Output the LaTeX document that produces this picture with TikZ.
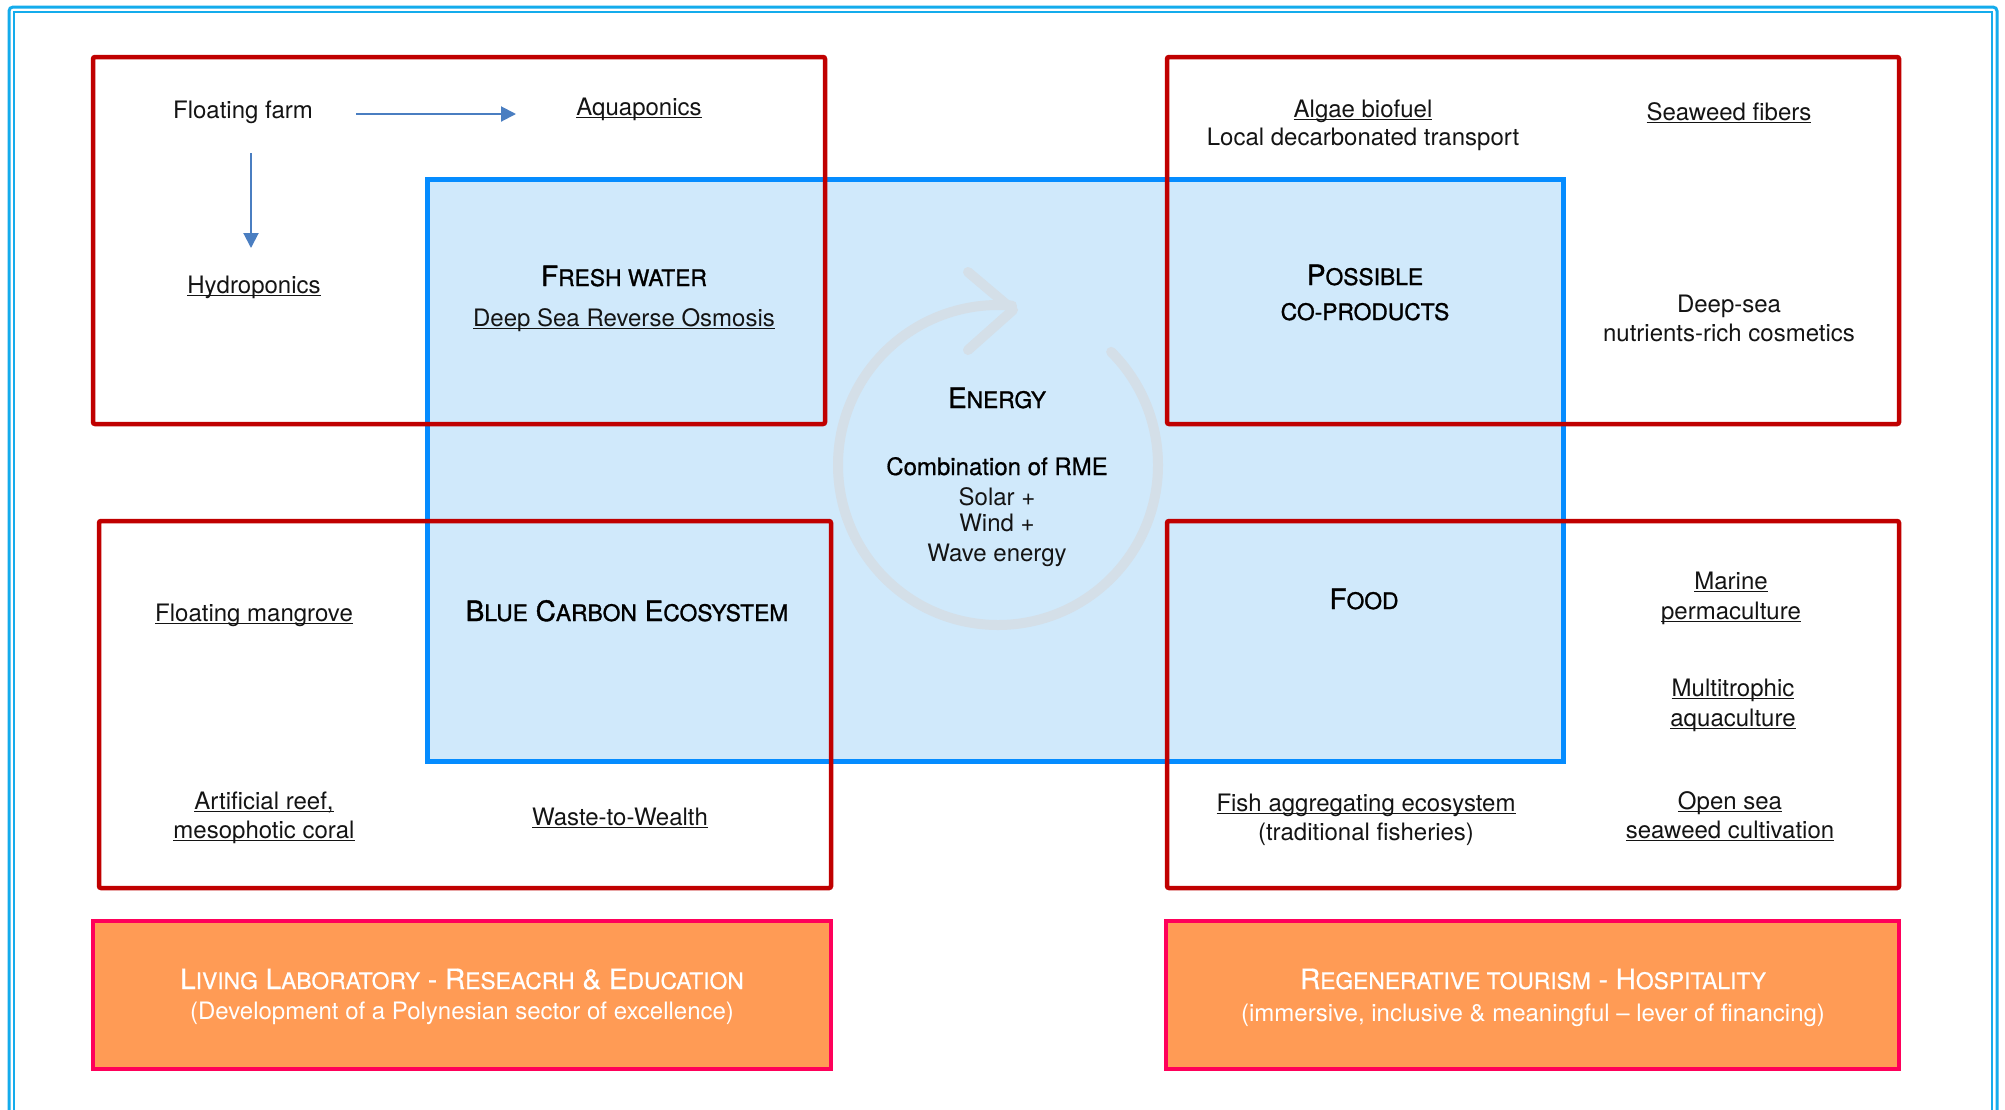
\documentclass[tikz,border=0pt]{standalone}
\usepackage{fontspec}
\setmainfont{TeX Gyre Heros}
\newfontfamily\headfont[FakeBold=1.2]{TeX Gyre Heros}
\newfontfamily\midfont[FakeBold=0.6]{TeX Gyre Heros}
\usetikzlibrary{arrows.meta}

\definecolor{framec}{RGB}{20,172,236}
\definecolor{redc}{RGB}{192,0,0}
\definecolor{bluec}{RGB}{5,140,255}
\definecolor{bluefill}{RGB}{208,233,251}
\definecolor{orangefill}{RGB}{255,155,85}
\definecolor{orangeborder}{RGB}{255,0,90}
\definecolor{arrowc}{RGB}{74,126,193}
\definecolor{circc}{RGB}{212,223,232}
\definecolor{textc}{RGB}{20,20,20}

\newsavebox\ulbox
\newcommand\ulx[1]{\sbox\ulbox{#1}\rlap{\rule[-0.14em]{\wd\ulbox}{0.075em}}\usebox\ulbox}
\newcommand\smc[1]{{\fontsize{11.4}{13}\selectfont #1}}

\tikzset{
  txt/.style={inner sep=0pt, anchor=base, text=textc, font=\fontsize{12}{14}\selectfont},
  head/.style={inner sep=0pt, anchor=base, text=black, font=\headfont\fontsize{14}{16}\selectfont},
  whead/.style={inner sep=0pt, anchor=base, text=white, font=\midfont\fontsize{14}{16}\selectfont},
  redbox/.style={draw=redc, line width=2.25pt, rounded corners=1pt},
  bluebox/.style={draw=bluec, fill=bluefill, line width=2.5pt},
  orangebox/.style={draw=orangeborder, fill=orangefill, line width=1.75pt},
  flow/.style={draw=arrowc, line width=1pt, -{Triangle[length=7.5pt,width=7.5pt]}},
  circline/.style={draw=circc, line width=5pt, line cap=round, line join=round},
}

\begin{document}
\begin{tikzpicture}[x=0.5pt,y=-0.5pt]
\useasboundingbox (0,0) rectangle (2005,1109);
\fill[white] (0,0) rectangle (2005,1109);
\begin{scope}
\clip (0,0) rectangle (2005,1109);
% outer double frame
\draw[framec, line width=1.5pt, rounded corners=2pt] (9,7) rectangle (1997,1150);
\draw[framec, line width=1pt] (13.5,12) rectangle (1991.5,1150);
\end{scope}

% central blue box
\draw[bluebox] (427,179) rectangle (1563,761);

% energy cycle arrow
\draw[circline] (998,465) ++(-45:160) arc[start angle=-45, end angle=275, radius=160];
\draw[circline] (968,272) -- (1013,310) -- (968,350);

% red boxes
\draw[redbox] (93,57) rectangle (825,424);
\draw[redbox] (1167,57) rectangle (1899,424);
\draw[redbox] (99,521) rectangle (831,888);
\draw[redbox] (1167,521) rectangle (1899,888);

% orange boxes
\draw[orangebox] (93,921) rectangle (831,1069);
\draw[orangebox] (1166,921) rectangle (1899,1069);

% top-left
\node[txt] (farm) at (243,118) {Floating farm};
\node[txt] (aqua) at (639,115) {\ulx{Aquaponics}};
\node[txt] (hydro) at (254,293) {\ulx{Hydroponics}};
\node[head] (fresh) at (624,286) {F\smc{RESH WATER}};
\node[txt] (dsro) at (624,326) {\ulx{Deep Sea Reverse Osmosis}};
\coordinate (farmR) at (356,114);
\coordinate (aquaL) at (516,114);
\coordinate (farmD) at (251,153);
\coordinate (hydroU) at (251,248);
\draw[flow] (farmR) -- (aquaL);
\draw[flow] (farmD) -- (hydroU);

% top-right
\node[txt] (algae) at (1363,117) {\ulx{Algae biofuel}};
\node[txt] (ldt) at (1363,145) {Local decarbonated transport};
\node[txt] (seaweed) at (1729,120) {\ulx{Seaweed fibers}};
\node[head] (poss1) at (1365,285) {P\smc{OSSIBLE}};
\node[head] (poss2) at (1365,320) {\smc{CO-PRODUCTS}};
\node[txt] (deep1) at (1729,312) {Deep-sea};
\node[txt] (deep2) at (1729,341) {nutrients-rich cosmetics};

% centre
\node[head] (energy) at (997,408) {E\smc{NERGY}};
\node[txt, font=\midfont\fontsize{12}{14}\selectfont, text=black] (comb) at (997,475) {Combination of RME};
\node[txt] (solar) at (997,505) {Solar +};
\node[txt] (wind) at (997,531) {Wind +};
\node[txt] (wave) at (997,561) {Wave energy};

% bottom-left
\node[txt] (mangrove) at (254,621) {\ulx{Floating mangrove}};
\node[head] (bce) at (627,621) {B\smc{LUE} C\smc{ARBON} E\smc{COSYSTEM}};
\node[txt] (reef1) at (264,809) {\ulx{Artificial reef,}};
\node[txt] (reef2) at (264,838) {\ulx{mesophotic coral}};
\node[txt] (waste) at (620,825) {\ulx{Waste-to-Wealth}};

% bottom-right
\node[head] (food) at (1364,609) {F\smc{OOD}};
\node[txt] (marine1) at (1731,589) {\ulx{Marine}};
\node[txt] (marine2) at (1731,619) {\ulx{permaculture}};
\node[txt] (multi1) at (1733,696) {\ulx{Multitrophic}};
\node[txt] (multi2) at (1733,726) {\ulx{aquaculture}};
\node[txt] (fish1) at (1366,811) {\ulx{Fish aggregating ecosystem}};
\node[txt] (fish2) at (1366,840) {(traditional fisheries)};
\node[txt] (open1) at (1730,809) {\ulx{Open sea}};
\node[txt] (open2) at (1730,838) {\ulx{seaweed cultivation}};

% orange texts
\node[whead] (lab1) at (462,989) {L\smc{IVING} L\smc{ABORATORY} - R\smc{ESEACRH} \& E\smc{DUCATION}};
\node[txt, text=white] (lab2) at (462,1019) {(Development of a Polynesian sector of excellence)};
\node[whead] (tour1) at (1533,989) {R\smc{EGENERATIVE TOURISM} - H\smc{OSPITALITY}};
\node[txt, text=white] (tour2) at (1533,1021) {(immersive, inclusive \& meaningful – lever of financing)};
\end{tikzpicture}
\end{document}
